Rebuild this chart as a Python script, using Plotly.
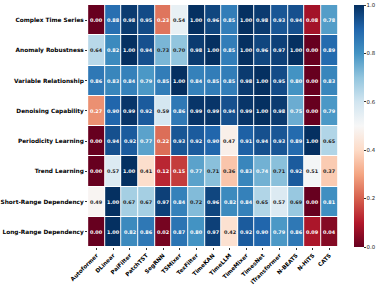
import plotly.graph_objects as go
import plotly.colors as pc
import numpy as np

models = ["Autoformer", "DLinear", "PaiFilter", "PatchTST", "SegRNN", "TSMixer", "TexFilter",
          "TimeKAN", "TimeLLM", "TimeMixer", "TimesNet", "iTransformer", "N-BEATS", "N-HiTS", "CATS"]
capabilities = ["Complex Time Series", "Anomaly Robustness", "Variable Relationship",
                "Denoising Capability", "Periodicity Learning", "Trend Learning",
                "Short-Range Dependency", "Long-Range Dependency"]

complex_ts = [0.00, 0.88, 0.98, 0.95, 0.23, 0.54, 1.00, 0.96, 0.85, 1.00, 0.98, 0.93, 0.94, 0.08, 0.78]
anomaly = [0.64, 0.82, 1.00, 0.94, 0.73, 0.70, 0.98, 1.00, 0.85, 1.00, 0.96, 0.97, 1.00, 0.00, 0.89]
variable = [0.86, 0.83, 0.84, 0.79, 0.85, 1.00, 0.84, 0.85, 0.85, 0.98, 1.00, 0.95, 0.80, 0.00, 0.83]
denoising = [0.27, 0.90, 0.99, 0.92, 0.59, 0.86, 0.99, 0.99, 0.94, 0.99, 1.00, 0.98, 0.75, 0.00, 0.79]
periodicity = [0.00, 0.94, 0.92, 0.77, 0.22, 0.93, 0.92, 0.90, 0.47, 0.91, 0.94, 0.93, 0.89, 1.00, 0.65]
trend = [0.00, 0.57, 1.00, 0.41, 0.12, 0.15, 0.77, 0.71, 0.36, 0.83, 0.74, 0.71, 0.92, 0.51, 0.37]
short_range = [0.49, 1.00, 0.67, 0.67, 0.97, 0.84, 0.72, 0.96, 0.82, 0.84, 0.65, 0.57, 0.69, 0.00, 0.81]
long_range = [0.00, 1.00, 0.82, 0.86, 0.02, 0.87, 0.80, 0.97, 0.42, 0.92, 0.90, 0.79, 0.86, 0.09, 0.04]

z = [complex_ts, anomaly, variable, denoising, periodicity, trend, short_range, long_range]

scale = pc.diverging.RdBu  # matplotlib/ColorBrewer RdBu, red -> blue


def text_color(v):
    c = pc.sample_colorscale(scale, [v])[0]
    rgb = np.array(pc.unlabel_rgb(c)) / 255.0
    rgb = np.where(rgb <= .03928, rgb / 12.92, ((rgb + .055) / 1.055) ** 2.4)
    lum = rgb.dot([.2126, .7152, .0722])
    return "#262626" if lum > .408 else "white"


fig = go.Figure(go.Heatmap(
    z=z, x=models, y=capabilities,
    zmin=0, zmax=1, colorscale=scale,
    xgap=1, ygap=1,
    hoverinfo="skip",
    colorbar=dict(
        xref="container", x=354 / 381, xanchor="left", xpad=0,
        y=0.5, yanchor="middle", len=1.0, lenmode="fraction", ypad=0,
        thickness=10, outlinewidth=0,
        tickvals=[0, 0.2, 0.4, 0.6, 0.8, 1.0], ticktext=["0.0", "0.2", "0.4", "0.6", "0.8", "1.0"],
        ticks="outside", ticklen=2, tickwidth=0.6, tickcolor="#333",
        tickfont=dict(family="DejaVu Sans", size=5.4, color="#222"),
    ),
))

for i, row in enumerate(z):
    for j, v in enumerate(row):
        fig.add_annotation(
            x=models[j], y=capabilities[i], text=f"<b>{v:.2f}</b>", showarrow=False,
            font=dict(family="DejaVu Sans", size=4.9, color=text_color(v)),
        )

fig.update_layout(
    width=381, height=287,
    margin=dict(l=88, r=43, t=5, b=40, autoexpand=False),
    paper_bgcolor="white", plot_bgcolor="white",
    showlegend=False,
)
fig.update_xaxes(
    tickangle=-45, ticks="outside", ticklen=2, tickwidth=0.6, tickcolor="#333",
    tickfont=dict(family="DejaVu Sans", size=5.6, color="black", weight="bold"),
    showgrid=False, zeroline=False, showline=False, automargin=False,
)
fig.update_yaxes(
    autorange="reversed", ticks="outside", ticklen=2, tickwidth=0.6, tickcolor="#333",
    tickfont=dict(family="DejaVu Sans", size=5.8, color="black", weight="bold"),
    showgrid=False, zeroline=False, showline=False, automargin=False,
)

fig.write_html(
    "out.html",
    config={"displayModeBar": False},
    post_script="document.body.style.margin='0';document.body.style.overflow='hidden';",
)
